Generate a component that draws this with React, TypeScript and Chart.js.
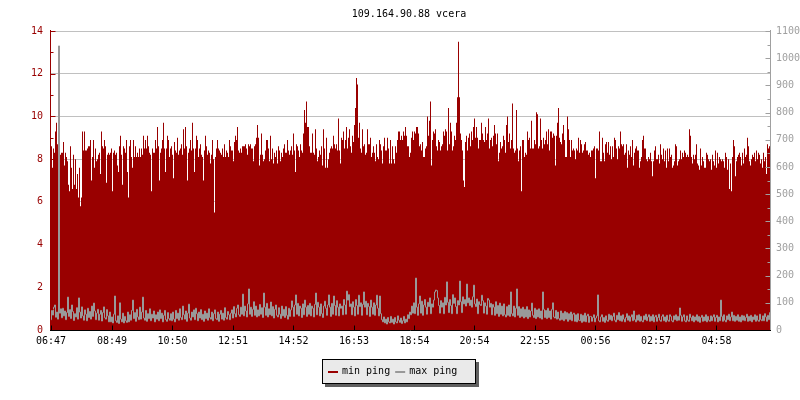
import React, { useEffect, useRef } from "react";
import { Chart, registerables } from "chart.js";

Chart.register(...registerables);

const TITLE = "109.164.90.88 vcera";
const SERIES_NAMES = ["min ping", "max ping"];
const STEP_MINUTES = 2;
const X_TICK_LABELS = ["06:47", "08:49", "10:50", "12:51", "14:52", "16:53", "18:54", "20:54", "22:55", "00:56", "02:57", "04:58"];
const LEFT_MAX = 14;
const LEFT_STEP = 2;
const RIGHT_MAX = 1100;
const RIGHT_STEP = 100;

// min ping (ms, left axis), one value per 2 minutes
const MIN_PING = [
  8.6, 7.6, 8.5, 8.3, 9.3, 9.7, 8.7, 8.1, 7.9, 8.2, 8.3, 8.3, 8.8, 7.7, 8.3, 8.1, 7.9, 6.8, 6.5, 8.6,
  7.6, 6.6, 8.2, 6.8, 8.0, 6.6, 7.3, 6.2, 7.6, 5.8, 6.2, 9.3, 8.4, 9.3, 8.4, 8.4, 8.5, 8.6, 8.6, 8.9,
  7.0, 8.1, 8.9, 7.6, 8.5, 7.9, 8.0, 8.2, 8.3, 7.3, 9.3, 8.6, 8.5, 8.9, 8.6, 6.9, 8.2, 8.3, 8.2, 8.3,
  8.5, 6.5, 8.3, 8.4, 8.2, 8.3, 7.7, 7.4, 8.6, 9.1, 8.2, 6.8, 8.6, 8.5, 8.3, 8.9, 7.4, 6.2, 8.6, 8.9,
  8.1, 7.6, 8.9, 8.1, 8.6, 8.1, 8.3, 8.1, 8.5, 8.1, 8.5, 8.2, 9.1, 8.5, 8.9, 8.5, 9.1, 8.6, 8.3, 8.2,
  6.5, 8.5, 8.3, 8.3, 8.9, 8.5, 9.5, 8.6, 7.0, 8.3, 8.5, 8.9, 9.7, 8.5, 7.4, 8.5, 9.1, 8.9, 8.1, 8.5,
  8.6, 8.2, 7.1, 8.8, 8.4, 8.3, 9.0, 8.2, 8.4, 8.5, 8.7, 8.2, 9.4, 8.5, 9.5, 8.6, 7.0, 8.3, 8.5, 8.9,
  8.4, 9.7, 8.5, 7.4, 8.5, 9.1, 8.9, 8.1, 8.5, 8.7, 8.2, 8.1, 7.0, 8.4, 9.1, 8.6, 8.2, 8.4, 8.3, 7.8,
  8.2, 8.9, 8.0, 5.5, 8.1, 8.5, 8.9, 8.5, 8.4, 8.3, 8.2, 8.5, 8.1, 8.7, 8.1, 8.4, 8.3, 8.1, 8.9, 8.6,
  8.4, 8.4, 7.9, 8.8, 9.1, 8.9, 9.5, 8.4, 8.3, 8.5, 8.3, 8.6, 8.6, 8.6, 8.7, 8.5, 8.2, 8.7, 8.6, 8.7,
  8.5, 8.5, 7.9, 8.6, 8.7, 9.0, 9.6, 9.0, 7.7, 8.2, 9.2, 8.2, 7.9, 8.0, 8.4, 8.9, 8.9, 8.5, 7.9, 9.1,
  8.0, 8.5, 7.8, 8.3, 8.1, 8.4, 7.8, 8.6, 8.4, 7.9, 8.3, 8.1, 8.5, 8.7, 8.3, 8.3, 8.9, 8.4, 8.2, 8.4,
  8.6, 8.2, 9.2, 8.4, 7.4, 8.7, 8.6, 8.4, 8.1, 8.7, 8.4, 8.3, 9.2, 10.3, 9.7, 10.7, 9.5, 9.5, 8.6, 8.3,
  8.3, 9.2, 8.3, 8.2, 9.4, 8.5, 7.9, 8.1, 8.4, 8.2, 8.6, 7.7, 9.4, 8.5, 7.6, 9.0, 7.6, 8.0, 8.3, 8.5,
  8.6, 8.5, 9.1, 8.7, 8.5, 8.7, 8.4, 9.9, 8.4, 7.8, 9.0, 8.9, 9.3, 8.5, 8.9, 9.5, 8.5, 9.0, 9.4, 8.6,
  8.3, 9.1, 8.8, 9.6, 10.4, 11.8, 11.5, 9.0, 9.7, 8.5, 8.3, 9.4, 8.6, 8.7, 8.2, 8.3, 9.4, 8.7, 8.7, 9.0,
  8.1, 8.3, 8.6, 8.3, 7.9, 8.7, 8.1, 8.0, 8.9, 8.7, 8.4, 7.8, 8.6, 9.0, 8.4, 8.4, 9.0, 8.5, 7.8, 8.9,
  7.8, 8.6, 8.0, 7.8, 8.6, 8.3, 8.9, 9.3, 9.3, 8.9, 9.1, 8.9, 9.3, 9.1, 9.5, 9.1, 8.6, 8.6, 8.1, 8.3,
  9.0, 9.3, 8.9, 9.3, 9.2, 9.5, 9.5, 9.2, 8.6, 8.7, 8.4, 8.8, 8.1, 8.1, 8.5, 8.6, 10.0, 9.1, 9.8, 10.7,
  7.7, 8.9, 9.3, 9.2, 9.4, 8.6, 8.4, 8.9, 8.8, 8.4, 8.6, 8.7, 9.3, 9.1, 9.4, 9.3, 8.4, 10.4, 8.7, 9.7,
  9.3, 8.4, 8.6, 9.1, 8.9, 9.7, 10.9, 13.5, 10.9, 9.2, 8.9, 8.4, 7.0, 6.7, 8.8, 9.1, 8.4, 9.0, 9.2, 8.6,
  9.3, 8.9, 9.5, 9.9, 9.0, 9.5, 9.0, 8.5, 8.9, 8.9, 9.7, 9.2, 8.9, 8.8, 9.5, 8.9, 9.2, 9.9, 8.5, 8.9,
  9.0, 8.6, 9.1, 9.6, 9.2, 8.7, 9.2, 7.9, 8.3, 8.8, 8.5, 8.6, 9.1, 8.9, 8.3, 9.6, 10.0, 8.8, 9.2, 8.5,
  8.9, 10.6, 8.5, 8.3, 8.4, 10.3, 8.5, 7.9, 8.4, 8.6, 6.5, 8.9, 8.9, 8.1, 8.3, 8.2, 9.3, 8.9, 9.0, 8.5,
  9.8, 8.5, 8.5, 8.9, 8.7, 10.2, 10.1, 8.5, 8.6, 9.9, 8.9, 8.5, 9.0, 8.7, 8.9, 9.3, 8.7, 9.4, 8.4, 9.3,
  9.3, 9.0, 9.2, 9.1, 7.7, 9.1, 9.7, 10.4, 9.0, 8.8, 8.7, 9.2, 9.6, 8.9, 8.1, 8.1, 10.0, 9.4, 8.9, 8.1,
  8.9, 8.4, 8.5, 8.4, 8.0, 8.5, 8.4, 9.0, 8.3, 8.9, 8.7, 8.3, 8.4, 8.7, 8.8, 8.4, 8.4, 8.2, 8.3, 8.1,
  8.4, 8.4, 8.5, 8.6, 7.1, 8.5, 8.5, 8.4, 9.3, 7.9, 7.9, 9.0, 8.3, 7.9, 8.7, 8.8, 8.3, 8.8, 8.2, 8.6,
  8.0, 8.6, 8.1, 9.0, 8.9, 8.5, 8.0, 8.6, 8.5, 9.3, 8.7, 8.6, 8.7, 8.2, 8.3, 8.7, 7.6, 8.4, 8.2, 8.6,
  8.1, 8.9, 7.7, 8.3, 8.5, 8.6, 8.4, 8.4, 7.6, 7.9, 8.1, 8.9, 9.1, 8.5, 8.5, 8.0, 7.9, 8.1, 8.0, 8.3,
  7.9, 7.2, 7.9, 8.4, 8.6, 8.0, 8.0, 8.2, 7.8, 8.7, 8.2, 8.0, 8.5, 7.9, 8.4, 7.6, 8.5, 7.9, 8.5, 8.1,
  8.2, 7.6, 7.7, 7.9, 8.7, 8.6, 7.7, 7.9, 8.0, 8.4, 8.0, 8.3, 8.1, 8.4, 8.3, 8.1, 8.2, 8.1, 9.4, 9.1,
  8.1, 7.8, 8.2, 8.0, 8.2, 8.7, 7.8, 7.7, 7.5, 8.5, 7.7, 8.1, 7.9, 7.6, 7.6, 8.3, 8.2, 8.0, 7.9, 8.0,
  7.5, 8.2, 7.9, 7.7, 8.4, 7.6, 8.3, 7.8, 8.1, 8.0, 7.9, 8.0, 7.9, 7.6, 8.3, 8.1, 7.5, 8.0, 6.6, 7.8,
  6.5, 8.1, 8.9, 8.6, 7.2, 7.9, 8.1, 8.2, 8.3, 8.1, 7.7, 8.3, 7.8, 8.5, 8.1, 8.2, 9.0, 8.6, 7.9, 7.7,
  8.0, 8.2, 8.1, 8.3, 7.9, 8.4, 8.0, 8.3, 8.2, 7.8, 8.0, 7.6, 8.3, 7.9, 8.1, 7.3, 8.7, 8.5, 8.6, 8.4,
];

// max ping (ms, right axis), one value per 2 minutes
const MAX_PING = [
  38, 72, 55, 84, 92, 47, 66, 40, 1045, 62, 78, 45, 80, 52, 70, 38, 64, 121, 50, 75,
  42, 92, 68, 35, 60, 48, 82, 40, 118, 66, 44, 85, 52, 36, 74, 58, 34, 80, 46, 68,
  40, 88, 50, 99, 70, 38, 62, 76, 36, 58, 72, 33, 64, 85, 45, 40, 75, 52, 30, 66,
  30, 48, 26, 58, 125, 34, 28, 52, 24, 100, 40, 30, 62, 26, 50, 34, 28, 66, 30, 56,
  36, 72, 110, 42, 64, 32, 76, 48, 38, 84, 40, 66, 121, 44, 36, 72, 32, 60, 42, 78,
  34, 58, 44, 70, 30, 56, 40, 66, 34, 74, 42, 62, 30, 54, 72, 38, 32, 64, 42, 36,
  60, 34, 66, 40, 30, 72, 42, 62, 36, 78, 46, 38, 88, 56, 40, 70, 32, 62, 95, 44,
  36, 66, 48, 74, 38, 80, 60, 34, 66, 44, 75, 38, 58, 32, 70, 42, 62, 36, 78, 46,
  40, 66, 34, 60, 74, 42, 38, 66, 32, 58, 72, 40, 62, 36, 82, 46, 40, 68, 56, 38,
  62, 74, 44, 86, 60, 48, 80, 92, 56, 50, 84, 58, 132, 52, 88, 70, 48, 96, 151, 58,
  84, 50, 76, 104, 54, 88, 48, 74, 52, 94, 58, 82, 46, 136, 84, 54, 98, 48, 78, 56,
  103, 52, 86, 44, 76, 92, 54, 48, 82, 58, 42, 88, 52, 76, 46, 86, 54, 40, 80, 50,
  74, 107, 84, 50, 92, 129, 58, 98, 52, 88, 80, 46, 96, 56, 110, 84, 50, 90, 58, 98,
  52, 88, 80, 48, 94, 136, 56, 102, 84, 52, 96, 60, 46, 88, 106, 80, 54, 92, 129, 84,
  50, 98, 58, 125, 90, 54, 108, 84, 52, 96, 80, 88, 56, 112, 92, 58, 143, 110, 130, 86,
  96, 56, 104, 84, 52, 112, 90, 58, 128, 86, 100, 54, 94, 140, 84, 106, 56, 98, 86, 50,
  110, 84, 58, 100, 54, 92, 128, 80, 52, 125, 60, 38, 30, 48, 26, 40, 22, 46, 30, 26,
  50, 28, 40, 22, 46, 30, 26, 52, 36, 28, 44, 24, 34, 50, 26, 40, 30, 56, 42, 66,
  56, 88, 62, 100, 60, 191, 84, 54, 96, 125, 62, 106, 54, 92, 112, 84, 58, 102, 86, 118,
  60, 96, 84, 110, 140, 147, 145, 118, 90, 62, 108, 84, 100, 60, 120, 92, 177, 102, 64, 112,
  90, 60, 130, 98, 118, 86, 60, 108, 92, 180, 104, 64, 122, 96, 112, 88, 169, 100, 118, 90,
  110, 84, 122, 165, 96, 86, 114, 60, 104, 94, 90, 128, 108, 62, 100, 88, 58, 116, 110, 84,
  98, 56, 94, 84, 54, 104, 60, 90, 50, 99, 58, 88, 52, 96, 56, 48, 86, 54, 92, 50,
  140, 60, 52, 88, 48, 80, 151, 54, 86, 46, 78, 50, 84, 44, 76, 48, 86, 42, 74, 48,
  70, 99, 54, 46, 80, 42, 74, 48, 78, 44, 70, 40, 140, 76, 46, 72, 42, 80, 46, 70,
  40, 76, 100, 48, 44, 72, 40, 66, 42, 36, 70, 38, 62, 34, 68, 40, 64, 32, 60, 38,
  66, 34, 58, 62, 32, 56, 30, 60, 36, 34, 58, 28, 54, 32, 62, 30, 52, 58, 28, 50,
  50, 32, 46, 56, 30, 44, 52, 129, 34, 30, 48, 56, 32, 46, 28, 52, 36, 32, 58, 38,
  54, 34, 50, 62, 36, 30, 54, 38, 64, 34, 52, 32, 56, 40, 30, 46, 60, 36, 52, 32,
  48, 56, 34, 70, 38, 30, 54, 36, 56, 32, 50, 34, 30, 52, 38, 58, 34, 48, 56, 32,
  50, 34, 56, 30, 48, 54, 32, 46, 58, 36, 32, 50, 56, 34, 48, 30, 54, 36, 32, 56,
  50, 34, 30, 52, 38, 56, 34, 50, 36, 81, 54, 32, 48, 56, 34, 30, 52, 36, 32, 58,
  46, 34, 52, 30, 48, 36, 56, 32, 50, 28, 46, 54, 32, 48, 34, 56, 30, 50, 36, 32,
  52, 34, 48, 56, 32, 46, 54, 30, 48, 34, 110, 50, 32, 56, 36, 30, 52, 38, 58, 34,
  48, 66, 34, 54, 32, 50, 36, 56, 32, 48, 30, 54, 36, 52, 34, 46, 58, 32, 50, 34,
  54, 30, 48, 38, 56, 32, 52, 36, 32, 58, 38, 34, 52, 34, 60, 48, 32, 54, 38, 64,
];

const FONT_FAMILY = "'DejaVu Sans Mono', monospace";
const FONT_CSS = `10px ${FONT_FAMILY}`;
const RED = "#990000";
const GREY = "#999999";
const AXIS_GREY = "#a0a0a0";
const GRID = "#c0c0c0";

const toMinutes = (s: string) => {
  const [h, m] = s.split(":").map(Number);
  return h * 60 + m;
};
const X_TICK_POS = X_TICK_LABELS.map(
  (l) => (toMinutes(l) - toMinutes(X_TICK_LABELS[0]) + 1440) % 1440
);

const decorPlugin = {
  id: "rrdDecor",
  afterDatasetsDraw(chart: any) {
    const { ctx, chartArea: a, scales } = chart;
    const xs = scales.x;
    const yl = scales.y;
    const yr = scales.y2;
    ctx.save();
    ctx.lineWidth = 1;

    // left axis (red) with inward ticks
    const lx = Math.round(a.left) - 0.5;
    ctx.strokeStyle = RED;
    ctx.beginPath();
    ctx.moveTo(lx, a.top - 1);
    ctx.lineTo(lx, a.bottom);
    for (let v = 0; v <= LEFT_MAX; v += LEFT_STEP / 2) {
      const y = Math.round(yl.getPixelForValue(v)) + 0.5;
      const major = Math.abs(v / LEFT_STEP - Math.round(v / LEFT_STEP)) < 1e-6;
      ctx.moveTo(lx - 0.5, y);
      ctx.lineTo(lx + (major ? 5 : 3), y);
    }
    ctx.stroke();

    // right axis (grey) with inward ticks
    const rx = Math.round(a.right) - 0.5;
    ctx.strokeStyle = AXIS_GREY;
    ctx.beginPath();
    ctx.moveTo(rx, a.top - 1);
    ctx.lineTo(rx, a.bottom);
    for (let v = 0; v <= RIGHT_MAX; v += RIGHT_STEP / 2) {
      const y = Math.round(yr.getPixelForValue(v)) + 0.5;
      const major = v % RIGHT_STEP === 0;
      ctx.moveTo(rx + 0.5, y);
      ctx.lineTo(rx - (major ? 5 : 3), y);
    }
    ctx.stroke();

    // bottom axis (black) with inward ticks
    const by = Math.round(a.bottom) + 0.5;
    ctx.strokeStyle = "#000";
    ctx.beginPath();
    ctx.moveTo(lx - 0.5, by);
    ctx.lineTo(rx + 0.5, by);
    X_TICK_POS.forEach((m) => {
      const x = Math.floor(xs.getPixelForValue(m)) + 0.5;
      ctx.moveTo(x, by);
      ctx.lineTo(x, by - 5);
    });
    ctx.stroke();
    ctx.restore();
  },
  afterDraw(chart: any) {
    const { ctx, width } = chart;
    ctx.save();
    ctx.font = FONT_CSS;
    ctx.fillStyle = "#000";
    ctx.textAlign = "center";
    ctx.textBaseline = "alphabetic";
    ctx.fillText(TITLE, width / 2 + 9, 17);

    // legend box with shadow
    const bx = 322;
    const byy = 359;
    const bw = 154;
    const bh = 25;
    ctx.fillStyle = "#606060";
    ctx.fillRect(bx + 3, byy + 3, bw, bh);
    ctx.fillStyle = "#eaeaea";
    ctx.fillRect(bx, byy, bw, bh);
    ctx.strokeStyle = "#000";
    ctx.lineWidth = 1;
    ctx.strokeRect(bx + 0.5, byy + 0.5, bw - 1, bh - 1);

    const colors = [RED, GREY];
    let x = bx + 6;
    ctx.textAlign = "left";
    SERIES_NAMES.forEach((name, i) => {
      ctx.fillStyle = colors[i];
      ctx.fillRect(x, byy + 12, 10, 2);
      ctx.fillStyle = "#000";
      ctx.fillText(name, x + 14, byy + 15);
      x += 14 + ctx.measureText(name).width + 5;
    });
    ctx.restore();
  },
};

export default function App() {
  const ref = useRef<HTMLCanvasElement>(null);
  useEffect(() => {
    document.body.style.margin = "0";
    const n = MIN_PING.length;
    const chart = new Chart(ref.current as HTMLCanvasElement, {
      type: "line",
      data: {
        datasets: [
          {
            label: SERIES_NAMES[0],
            data: MIN_PING.map((v, i) => ({ x: i * STEP_MINUTES, y: v })),
            yAxisID: "y",
            backgroundColor: RED,
            borderColor: RED,
            borderWidth: 0,
            fill: "origin",
            stepped: true,
            pointRadius: 0,
            order: 2,
          },
          {
            label: SERIES_NAMES[1],
            data: MAX_PING.map((v, i) => ({ x: i * STEP_MINUTES, y: v })),
            yAxisID: "y2",
            borderColor: GREY,
            backgroundColor: GREY,
            borderWidth: 1,
            fill: false,
            stepped: "middle",
            pointRadius: 0,
            order: 1,
          },
        ],
      },
      options: {
        animation: false,
        responsive: false,
        devicePixelRatio: 1,
        layout: { padding: { top: 31, left: 0, right: 0, bottom: 0 } },
        plugins: {
          legend: { display: false },
          title: { display: false },
          tooltip: { enabled: false },
        },
        events: [],
        scales: {
          x: {
            type: "linear",
            min: 0,
            max: n * STEP_MINUTES,
            grid: { display: false, drawTicks: false },
            border: { display: false },
            ticks: {
              autoSkip: false,
              maxRotation: 0,
              padding: 5,
              color: "#000",
              font: { family: FONT_FAMILY, size: 10 },
              callback: (_v: any, i: number) => X_TICK_LABELS[i],
            },
            afterBuildTicks: (s: any) => {
              s.ticks = X_TICK_POS.map((v) => ({ value: v }));
            },
            afterFit: (s: any) => {
              s.height = 70;
            },
          },
          y: {
            position: "left",
            min: 0,
            max: LEFT_MAX,
            grid: { color: GRID, drawTicks: false },
            border: { display: false },
            ticks: {
              stepSize: LEFT_STEP,
              padding: 8,
              color: RED,
              font: { family: FONT_FAMILY, size: 10 },
              callback: (v: any) => String(v),
            },
            afterFit: (s: any) => {
              s.width = 51;
            },
          },
          y2: {
            position: "right",
            min: 0,
            max: RIGHT_MAX,
            grid: { display: false, drawTicks: false },
            border: { display: false },
            ticks: {
              stepSize: RIGHT_STEP,
              padding: 5,
              color: AXIS_GREY,
              font: { family: FONT_FAMILY, size: 10 },
              callback: (v: any) => String(v),
            },
            afterFit: (s: any) => {
              s.width = 29;
            },
          },
        },
      } as any,
      plugins: [decorPlugin],
    });
    return () => chart.destroy();
  }, []);
  return (
    <canvas
      ref={ref}
      width={800}
      height={400}
      style={{ display: "block", width: 800, height: 400 }}
    />
  );
}
